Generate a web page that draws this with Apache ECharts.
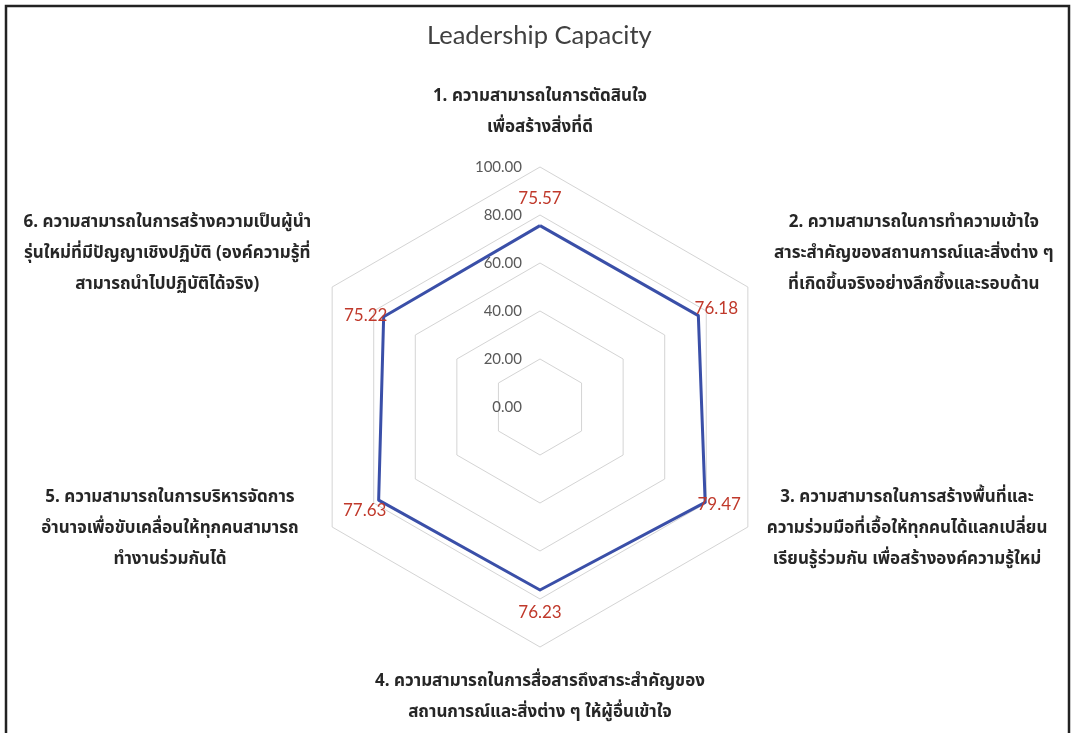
<!DOCTYPE html>
<html>
<head>
<meta charset="utf-8">
<script src="https://cdn.jsdelivr.net/npm/echarts@6/dist/echarts.min.js"></script>
<style>
html,body{margin:0;padding:0;background:#fff;}
#chart{width:1073px;height:733px;}
</style>
</head>
<body>
<div id="chart"></div>
<script>
// ---- data ----
const chartTitle = 'Leadership Capacity';
const categories = [
  '1. ความสามารถในการตัดสินใจ\nเพื่อสร้างสิ่งที่ดี',
  '2. ความสามารถในการทำความเข้าใจ\nสาระสำคัญของสถานการณ์และสิ่งต่าง ๆ\nที่เกิดขึ้นจริงอย่างลึกซึ้งและรอบด้าน',
  '3. ความสามารถในการสร้างพื้นที่และ\nความร่วมมือที่เอื้อให้ทุกคนได้แลกเปลี่ยน\nเรียนรู้ร่วมกัน เพื่อสร้างองค์ความรู้ใหม่',
  '4. ความสามารถในการสื่อสารถึงสาระสำคัญของ\nสถานการณ์และสิ่งต่าง ๆ ให้ผู้อื่นเข้าใจ',
  '5. ความสามารถในการบริหารจัดการ\nอำนาจเพื่อขับเคลื่อนให้ทุกคนสามารถ\nทำงานร่วมกันได้',
  '6. ความสามารถในการสร้างความเป็นผู้นำ\nรุ่นใหม่ที่มีปัญญาเชิงปฏิบัติ (องค์ความรู้ที่\nสามารถนำไปปฏิบัติได้จริง)'
];
const values = [75.57, 76.18, 79.47, 76.23, 77.63, 75.22];
const axisMin = 0;
const axisMax = 100;
const axisSplits = 5;

// ---- layout / style (not data) ----
const thaiFont = '"Noto Sans Thai", "Noto Sans Thai UI", Loma, Garuda, Tahoma, "Noto Sans", sans-serif';
// per-axis name placement: gap along axis, vertical alignment, horizontal padding [right, left]
const nameLayout = [
  { gap: 23, v: 'bottom', padR: 0,   padL: 0 },
  { gap: 64, v: 'middle', padR: 0,   padL: 221 },
  { gap: 6,  v: 'middle', padR: 0,   padL: 308 },
  { gap: 20, v: 'top',    padR: 0,   padL: 0 },
  { gap: 6,  v: 'middle', padR: 314, padL: 0 },
  { gap: 64, v: 'middle', padR: 219, padL: 0 }
];
// value label offsets from each vertex
const labelOffsets = [[0, -27], [18, -7], [14, 2], [0, 23], [-14, 10], [-18, -1]];

// ECharts lays indicators counter-clockwise; Excel clockwise -> reorder
const order = [0, 5, 4, 3, 2, 1];
const orderedValues = order.map(i => values[i]);

const indicators = order.map((i, k) => ({
  name: categories[i],
  min: axisMin,
  max: axisMax,
  nameGap: nameLayout[i].gap,
  nameTextStyle: {
    align: 'center',
    verticalAlign: nameLayout[i].v,
    padding: [0, nameLayout[i].padR, 0, nameLayout[i].padL]
  },
  axisLabel: k === 0 ? {
    show: true,
    margin: 18,
    color: '#595959',
    fontSize: 15,
    fontFamily: 'Lato',
    formatter: v => Number(v).toFixed(2)
  } : { show: false }
}));

const labelItems = values.map((v, i) => ({
  value: orderedValues,
  symbol: 'circle',
  symbolSize: 1,
  itemStyle: { color: 'rgba(0,0,0,0)' },
  label: {
    show: true,
    position: 'inside',
    offset: labelOffsets[i],
    color: '#c0392b',
    fontSize: 17,
    fontFamily: 'Lato',
    formatter: p => (p.value === v ? v.toFixed(2) : '')
  }
}));

const chart = echarts.init(document.getElementById('chart'), null, { renderer: 'canvas' });
chart.setOption({
  animation: false,
  backgroundColor: '#fff',
  title: {
    text: chartTitle,
    left: 422,
    top: 18,
    textStyle: { fontFamily: 'Lato', fontSize: 25.5, fontWeight: 'normal', color: '#404040' }
  },
  graphic: [{
    type: 'rect',
    shape: { x: 6, y: 6, width: 1063, height: 760 },
    style: { fill: 'none', stroke: '#222', lineWidth: 2.5 },
    silent: true
  }],
  radar: {
    center: [540, 407],
    radius: 240,
    startAngle: 90,
    shape: 'polygon',
    splitNumber: axisSplits,
    axisNameGap: 0,
    axisName: {
      color: '#262626',
      fontFamily: thaiFont,
      fontSize: 17,
      fontWeight: 'bold',
      lineHeight: 31
    },
    axisLine: { show: false },
    axisTick: { show: false },
    axisLabel: { show: false },
    splitLine: { lineStyle: { color: '#d4d4d4', width: 1 } },
    splitArea: { show: false },
    indicator: indicators
  },
  series: [{
    type: 'radar',
    silent: true,
    symbol: 'none',
    lineStyle: { color: '#3a4fa8', width: 3 },
    data: [{ value: orderedValues, name: 'Leadership Capacity' }]
  }, {
    type: 'radar',
    silent: true,
    lineStyle: { width: 0, opacity: 0 },
    data: labelItems
  }]
});
</script>
</body>
</html>
